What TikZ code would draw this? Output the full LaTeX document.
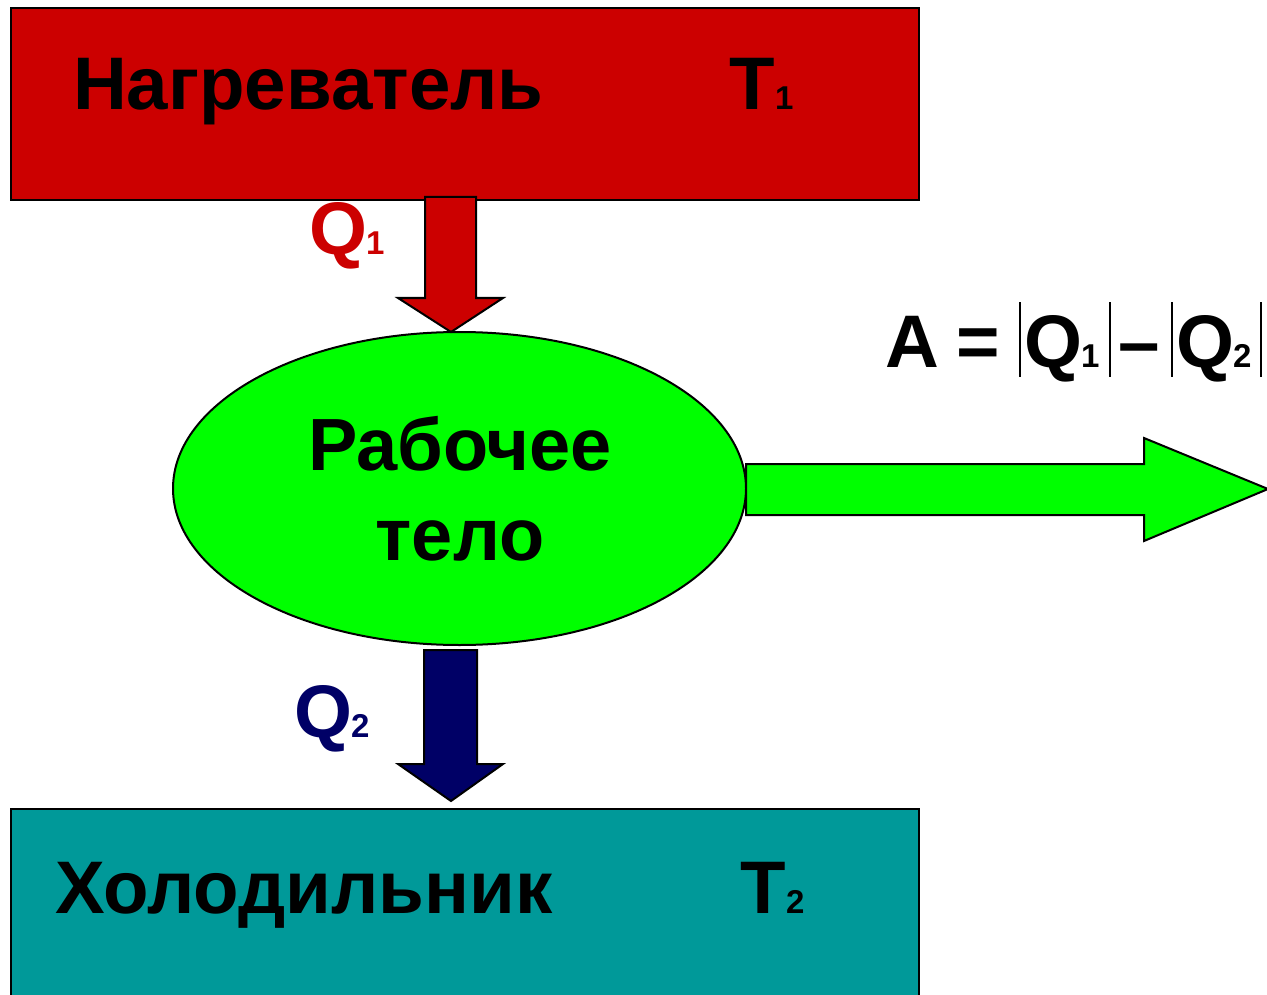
\documentclass[tikz,border=0pt]{standalone}
\usepackage{fontspec}
\setmainfont{Liberation Sans}
\usetikzlibrary{shapes.geometric}
\definecolor{heat}{HTML}{CC0000}
\definecolor{cool}{HTML}{009999}
\definecolor{bodyg}{HTML}{00FF00}
\definecolor{navy}{HTML}{000066}
\begin{document}
\begin{tikzpicture}[x=1pt,y=-1pt,
  big/.style={font=\fontsize{74.5}{80}\selectfont\bfseries, inner sep=0pt, anchor=base west},
  mid/.style={font=\fontsize{74}{78}\selectfont\bfseries, inner sep=0pt, anchor=base},
  sub/.style={font=\fontsize{33}{36}\selectfont\bfseries, inner sep=0pt, anchor=base west},
  boxnode/.style={draw=black, line width=2pt, minimum width=908pt, anchor=north west, inner sep=0pt},
  blockarrow/.style={draw=black, line width=2pt, line join=miter},
  bar/.style={line width=2pt}]
\useasboundingbox (0,0) rectangle (1267,995);
\clip (0,0) rectangle (1267,995);
% boxes
\node[boxnode, fill=heat, minimum height=192pt] (heater) at (10,7) {};
\node[boxnode, fill=cool, minimum height=200pt] (cooler) at (10,808) {};
\node[ellipse, draw=black, line width=2pt, fill=bodyg, minimum width=573pt, minimum height=313pt, inner sep=0pt] (body) at (459.5,488.5) {};
% arrows
\draw[blockarrow, fill=heat] (425,197) -- (476,197) -- (476,298) -- (503,298) -- (451,332) -- (398,298) -- (425,298) -- cycle;
\draw[blockarrow, fill=navy] (424,650) -- (477,650) -- (477,764) -- (503,764) -- (451,801) -- (398,764) -- (424,764) -- cycle;
\draw[blockarrow, fill=bodyg] (746,464) -- (1144,464) -- (1144,438) -- (1268,489) -- (1144,541) -- (1144,515) -- (746,515) -- cycle;
% texts
\node[big] (heattext) at (73,110) {Нагреватель};
\node[big] (heatT) at (729,110) {T};
\node[sub] (heatTs) at (775,110) {1};
\node[big] (cooltext) at (55,913) {Холодильник};
\node[big] (coolT) at (740,913) {T};
\node[sub] (coolTs) at (786,913) {2};
\node[mid] (bodytext1) at (460,470) {Рабочее};
\node[mid] (bodytext2) at (460,560) {тело};
\node[big, text=heat] (q1) at (309,255) {Q};
\node[sub, text=heat] (q1s) at (366,255) {1};
\node[big, text=navy] (q2) at (294,737) {Q};
\node[sub, text=navy] (q2s) at (351,737) {2};
% formula
\node[big] (fa) at (885,367) {A};
\node[big] (feq) at (956,367) {=};
\node[big] (fq1) at (1024,367) {Q};
\node[sub] (fq1s) at (1081,367) {1};
\node[big] (fminus) at (1118,367) {–};
\node[big] (fq2) at (1176,367) {Q};
\node[sub] (fq2s) at (1233,367) {2};
\draw[bar] (1020,302) -- (1020,377);
\draw[bar] (1110,302) -- (1110,377);
\draw[bar] (1172,302) -- (1172,377);
\draw[bar] (1261,302) -- (1261,377);
\end{tikzpicture}
\end{document}
